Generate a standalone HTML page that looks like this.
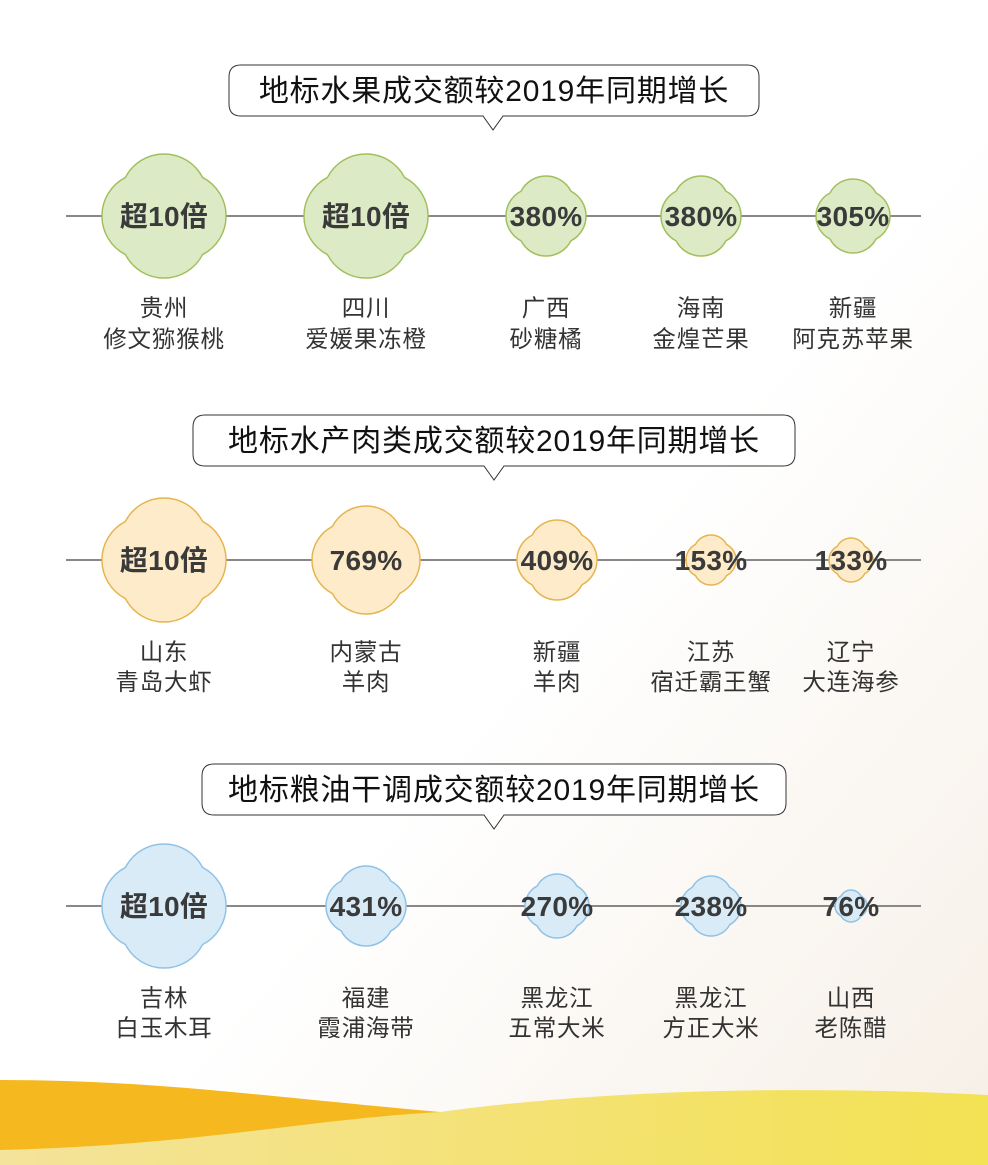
<!DOCTYPE html>
<html><head><meta charset="utf-8"><style>
html,body{margin:0;padding:0;background:#fff}
svg{display:block}
text{font-family:"Liberation Sans","Noto Sans CJK SC",sans-serif}
.v{font-size:28px;font-weight:bold;fill:#3a3a3a;text-anchor:middle;letter-spacing:0.3px}
.l{font-size:23.5px;fill:#333;text-anchor:middle;letter-spacing:0.8px}
.t{font-size:30px;fill:#111;text-anchor:middle;letter-spacing:0.8px}
.g{fill:#dcebc5;stroke:#a2bf5c}
.o{fill:#fdebc9;stroke:#e6b450}
.b{fill:#d9ebf7;stroke:#90c2e6}
</style></head><body>
<svg width="988" height="1165" viewBox="0 0 988 1165" xmlns="http://www.w3.org/2000/svg">
<defs>
<linearGradient id="bg" x1="0" y1="0" x2="1" y2="1"><stop offset="0.55" stop-color="#fff"/><stop offset="1" stop-color="#f6efe6"/></linearGradient>
<linearGradient id="yl" x1="0" y1="0" x2="1" y2="0"><stop offset="0" stop-color="#f4e39a"/><stop offset="1" stop-color="#f3e253"/></linearGradient>
<path id="c" d="M0.622,-0.622 A0.7,0.7 0 0 1 0.622,0.622 A0.7,0.7 0 0 1 -0.622,0.622 A0.7,0.7 0 0 1 -0.622,-0.622 A0.7,0.7 0 0 1 0.622,-0.622 Z"/>
</defs>
<rect width="988" height="1165" fill="url(#bg)"/>
<path d="M0,1080 C150,1080 250,1095 440,1112 L440,1160 L0,1155 Z" fill="#f5b81e"/>
<path d="M0,1150 C200,1145 300,1120 440,1112 C600,1090 800,1085 988,1095 L988,1165 L0,1165 Z" fill="url(#yl)"/>

<!-- Section 1 -->
<path d="M241,65 H747 Q759,65 759,77 V104 Q759,116 747,116 H503 L493,130 L483,116 H241 Q229,116 229,104 V77 Q229,65 241,65 Z" fill="#fff" stroke="#333" stroke-width="1"/>
<text class="t" x="494" y="101">地标水果成交额较2019年同期增长</text>
<line x1="66" y1="216" x2="921" y2="216" stroke="#888" stroke-width="2"/>
<g class="g">
<use href="#c" transform="translate(164,216) scale(62)" style="stroke-width:0.024"/>
<use href="#c" transform="translate(366,216) scale(62)" style="stroke-width:0.024"/>
<use href="#c" transform="translate(546,216) scale(40)" style="stroke-width:0.0375"/>
<use href="#c" transform="translate(701,216) scale(40)" style="stroke-width:0.0375"/>
<use href="#c" transform="translate(853,216) scale(37)" style="stroke-width:0.04"/>
</g>
<text class="v" x="164" y="226">超10倍</text><text class="v" x="366" y="226">超10倍</text>
<text class="v" x="546" y="226">380%</text><text class="v" x="701" y="226">380%</text><text class="v" x="853" y="226">305%</text>
<text class="l" x="164" y="316">贵州</text><text class="l" x="164" y="347">修文猕猴桃</text>
<text class="l" x="366" y="316">四川</text><text class="l" x="366" y="347">爱媛果冻橙</text>
<text class="l" x="546" y="316">广西</text><text class="l" x="546" y="347">砂糖橘</text>
<text class="l" x="701" y="316">海南</text><text class="l" x="701" y="347">金煌芒果</text>
<text class="l" x="853" y="316">新疆</text><text class="l" x="853" y="347">阿克苏苹果</text>

<!-- Section 2 -->
<path d="M205,415 H783 Q795,415 795,427 V454 Q795,466 783,466 H504 L494,480 L484,466 H205 Q193,466 193,454 V427 Q193,415 205,415 Z" fill="#fff" stroke="#333" stroke-width="1"/>
<text class="t" x="494" y="451">地标水产肉类成交额较2019年同期增长</text>
<line x1="66" y1="560" x2="921" y2="560" stroke="#888" stroke-width="2"/>
<g class="o">
<use href="#c" transform="translate(164,560) scale(62)" style="stroke-width:0.024"/>
<use href="#c" transform="translate(366,560) scale(54)" style="stroke-width:0.028"/>
<use href="#c" transform="translate(557,560) scale(40)" style="stroke-width:0.0375"/>
<use href="#c" transform="translate(711,560) scale(25)" style="stroke-width:0.06"/>
<use href="#c" transform="translate(851,560) scale(22)" style="stroke-width:0.068"/>
</g>
<text class="v" x="164" y="570">超10倍</text><text class="v" x="366" y="570">769%</text>
<text class="v" x="557" y="570">409%</text><text class="v" x="711" y="570">153%</text><text class="v" x="851" y="570">133%</text>
<text class="l" x="164" y="660">山东</text><text class="l" x="164" y="690">青岛大虾</text>
<text class="l" x="366" y="660">内蒙古</text><text class="l" x="366" y="690">羊肉</text>
<text class="l" x="557" y="660">新疆</text><text class="l" x="557" y="690">羊肉</text>
<text class="l" x="711" y="660">江苏</text><text class="l" x="711" y="690">宿迁霸王蟹</text>
<text class="l" x="851" y="660">辽宁</text><text class="l" x="851" y="690">大连海参</text>

<!-- Section 3 -->
<path d="M214,764 H774 Q786,764 786,776 V803 Q786,815 774,815 H504 L494,829 L484,815 H214 Q202,815 202,803 V776 Q202,764 214,764 Z" fill="#fff" stroke="#333" stroke-width="1"/>
<text class="t" x="494" y="800">地标粮油干调成交额较2019年同期增长</text>
<line x1="66" y1="906" x2="921" y2="906" stroke="#888" stroke-width="2"/>
<g class="b">
<use href="#c" transform="translate(164,906) scale(62)" style="stroke-width:0.024"/>
<use href="#c" transform="translate(366,906) scale(40)" style="stroke-width:0.0375"/>
<use href="#c" transform="translate(557,906) scale(32)" style="stroke-width:0.047"/>
<use href="#c" transform="translate(711,906) scale(30)" style="stroke-width:0.05"/>
<use href="#c" transform="translate(851,906) scale(16)" style="stroke-width:0.094"/>
</g>
<text class="v" x="164" y="916">超10倍</text><text class="v" x="366" y="916">431%</text>
<text class="v" x="557" y="916">270%</text><text class="v" x="711" y="916">238%</text><text class="v" x="851" y="916">76%</text>
<text class="l" x="164" y="1006">吉林</text><text class="l" x="164" y="1036">白玉木耳</text>
<text class="l" x="366" y="1006">福建</text><text class="l" x="366" y="1036">霞浦海带</text>
<text class="l" x="557" y="1006">黑龙江</text><text class="l" x="557" y="1036">五常大米</text>
<text class="l" x="711" y="1006">黑龙江</text><text class="l" x="711" y="1036">方正大米</text>
<text class="l" x="851" y="1006">山西</text><text class="l" x="851" y="1036">老陈醋</text>
</svg>
</body></html>
